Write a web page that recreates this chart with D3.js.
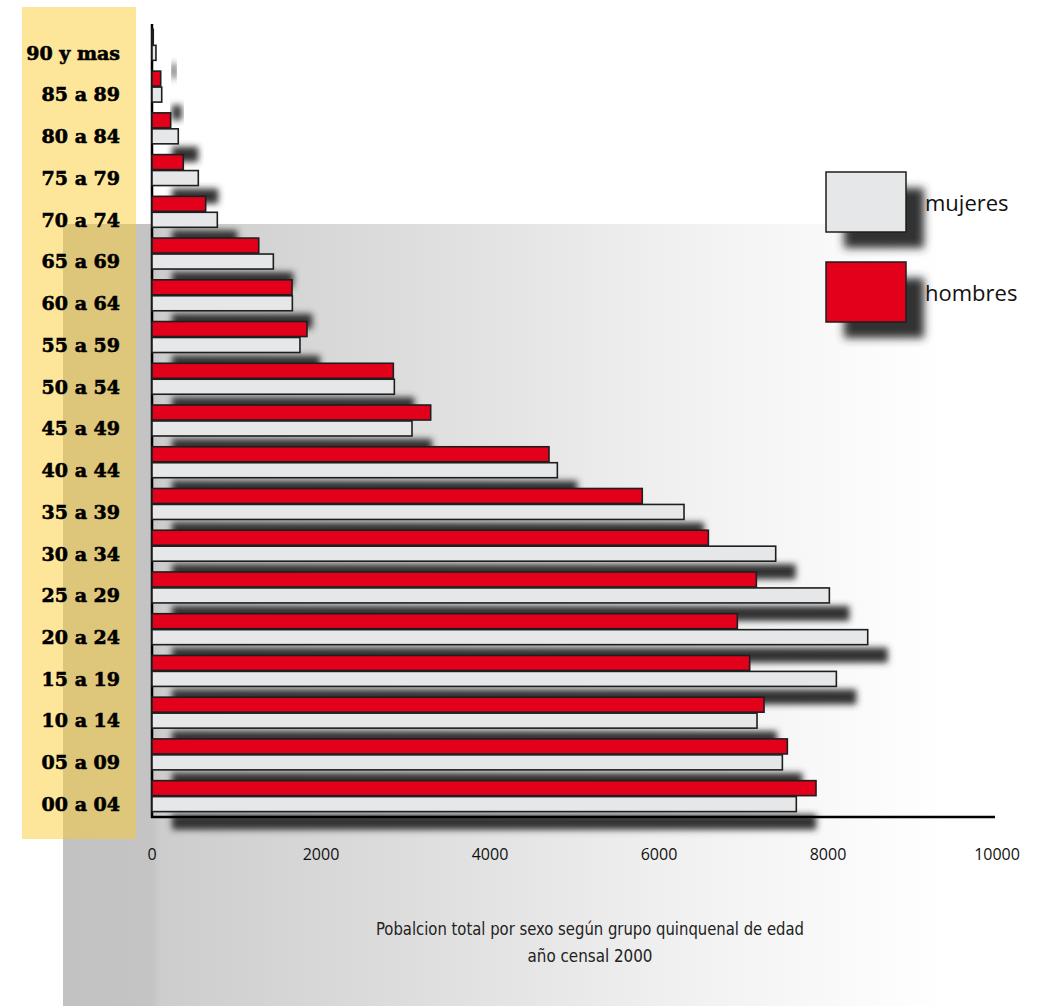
<!DOCTYPE html>
<html>
<head>
<meta charset="utf-8">
<script src="https://cdn.jsdelivr.net/npm/d3@7"></script>
<style>
  body { margin: 0; background: #fff; }
  svg { display: block; }
</style>
</head>
<body>
<script>
// age groups, top to bottom
var categories = ['90 y mas', '85 a 89', '80 a 84', '75 a 79', '70 a 74', '65 a 69', '60 a 64',
    '55 a 59', '50 a 54', '45 a 49', '40 a 44', '35 a 39', '30 a 34', '25 a 29', '20 a 24',
    '15 a 19', '10 a 14', '05 a 09', '00 a 04'];
var hombres = [15, 103, 221, 370, 635, 1263, 1657, 1834, 2856, 3298, 4698, 5802, 6584, 7152,
    6927, 7073, 7243, 7519, 7858];
var mujeres = [47, 115, 311, 548, 773, 1436, 1661, 1751, 2868, 3077, 4797, 6296, 7381, 8016,
    8470, 8099, 7160, 7460, 7625];
var xTicks = [0, 2000, 4000, 6000, 8000, 10000];
var series = ['hombres', 'mujeres'];
var legendItems = ['mujeres', 'hombres'];
var titleLines = ['Pobalcion total por sexo según grupo quinquenal de edad', 'año censal 2000'];

var width = 1043,
    height = 1006;

var colors = { hombres: '#e2001a', mujeres: '#e6e7e8' };

var svg = d3.select('body')
    .append('svg')
    .attr('width', width)
    .attr('height', height)

var defs = svg.append('defs')
var grad = defs.append('linearGradient')
    .attr('id', 'bg')
    .attr('gradientUnits', 'userSpaceOnUse')
    .attr('x1', 63).attr('x2', 1043).attr('y1', 0).attr('y2', 0)
;[[0, '#c2c2c2'], [0.09, '#c4c4c4'], [0.1, '#cdcdcd'], [0.35, '#dddddd'],
  [0.65, '#f2f2f2'], [0.9, '#ffffff'], [1, '#ffffff']].forEach(s => {
    grad.append('stop').attr('offset', s[0]).attr('stop-color', s[1])
})
defs.append('filter')
    .attr('id', 'blur')
    .attr('x', '-20%').attr('y', '-100%').attr('width', '140%').attr('height', '300%')
    .append('feGaussianBlur').attr('stdDeviation', 3.4)
defs.append('filter')
    .attr('id', 'blur2')
    .attr('x', '-50%').attr('y', '-50%').attr('width', '200%').attr('height', '200%')
    .append('feGaussianBlur').attr('stdDeviation', 4.5)

// background panels
svg.append('rect')
    .attr('x', 63).attr('y', 224).attr('width', width - 63).attr('height', height - 224)
    .attr('fill', 'url(#bg)')
svg.append('rect')
    .attr('x', 22).attr('y', 7).attr('width', 114).attr('height', 832)
    .attr('fill', 'rgb(251,203,43)')
    .attr('fill-opacity', 0.48)

var xScale = d3.scaleLinear()
    .domain([0, 10000])
    .range([152, 997])
var yScale = d3.scaleBand()
    .domain(categories)
    .range([24, 817])
    .paddingInner(0.258)
    .paddingOuter(0.129)
var ySub = d3.scaleBand()
    .domain(series)
    .range([0, yScale.bandwidth()])
    .paddingInner(0.06)

var rows = categories.map((c, i) => ({ cat: c, hombres: hombres[i], mujeres: mujeres[i] }))

// shadows of the white bars
svg.append('g')
    .selectAll('rect')
    .data(rows)
    .join('rect')
    .attr('x', xScale(0) + 20)
    .attr('y', d => yScale(d.cat) + ySub('mujeres') + 18)
    .attr('width', d => xScale(d.mujeres) - xScale(0))
    .attr('height', ySub.bandwidth())
    .attr('fill', '#333')
    .attr('filter', 'url(#blur)')

// axes lines
svg.append('line')
    .attr('x1', xScale(0)).attr('x2', xScale(0))
    .attr('y1', 24).attr('y2', 818)
    .attr('stroke', '#000').attr('stroke-width', 2.5)
svg.append('line')
    .attr('x1', xScale(0) - 1).attr('x2', 995)
    .attr('y1', 817).attr('y2', 817)
    .attr('stroke', '#000').attr('stroke-width', 2.5)

// bars
var groups = svg.append('g')
    .selectAll('g')
    .data(rows)
    .join('g')
    .attr('transform', d => `translate(0, ${yScale(d.cat)})`)
groups.selectAll('rect')
    .data(d => series.map(s => ({ key: s, value: d[s] })))
    .join('rect')
    .attr('x', xScale(0))
    .attr('y', d => ySub(d.key))
    .attr('width', d => xScale(d.value) - xScale(0))
    .attr('height', ySub.bandwidth())
    .attr('fill', d => colors[d.key])
    .attr('stroke', '#1e1e1e')
    .attr('stroke-width', 1.6)

// category labels, aligned with the white bar
svg.append('g')
    .selectAll('text')
    .data(categories)
    .join('text')
    .attr('x', 120)
    .attr('y', d => yScale(d) + ySub('mujeres') + ySub.bandwidth() / 2)
    .attr('dy', '0.36em')
    .attr('text-anchor', 'end')
    .attr('style', 'font-family: "DejaVu Serif"; font-weight: bold; font-size: 19px; fill: #000; stroke: #000; stroke-width: 0.6px;')
    .text(d => d)

// x tick labels
svg.append('g')
    .selectAll('text')
    .data(xTicks)
    .join('text')
    .attr('x', d => xScale(d))
    .attr('y', 860)
    .attr('text-anchor', 'middle')
    .attr('style', 'font-family: "Open Sans"; font-size: 16px; fill: #111;')
    .text(d => d)

// legend
var legend = svg.append('g')
var legendY = d3.scaleBand().domain(legendItems).range([172, 322]).paddingInner(1 / 3)
legend.selectAll('rect.sh')
    .data(legendItems)
    .join('rect')
    .attr('class', 'sh')
    .attr('x', 844).attr('y', d => legendY(d) + 16)
    .attr('width', 80).attr('height', 60)
    .attr('fill', '#333')
    .attr('filter', 'url(#blur2)')
legend.selectAll('rect.box')
    .data(legendItems)
    .join('rect')
    .attr('class', 'box')
    .attr('x', 826).attr('y', d => legendY(d))
    .attr('width', 80).attr('height', legendY.bandwidth())
    .attr('fill', d => colors[d])
    .attr('stroke', '#1e1e1e').attr('stroke-width', 1.5)
legend.selectAll('text')
    .data(legendItems)
    .join('text')
    .attr('x', 925)
    .attr('y', d => legendY(d) + 32)
    .attr('dy', '0.3em')
    .attr('style', 'font-family: "Open Sans"; font-size: 22px; fill: #111;')
    .text(d => d)

// title
svg.append('g')
    .selectAll('text')
    .data(titleLines)
    .join('text')
    .attr('x', 590)
    .attr('y', (d, i) => 935 + i * 27)
    .attr('text-anchor', 'middle')
    .attr('textLength', (d, i) => i === 0 ? 428 : 125)
    .attr('lengthAdjust', 'spacingAndGlyphs')
    .attr('style', 'font-family: "DejaVu Sans Condensed", "DejaVu Sans"; font-stretch: condensed; font-size: 18px; fill: #222;')
    .text(d => d)
</script>
</body>
</html>
